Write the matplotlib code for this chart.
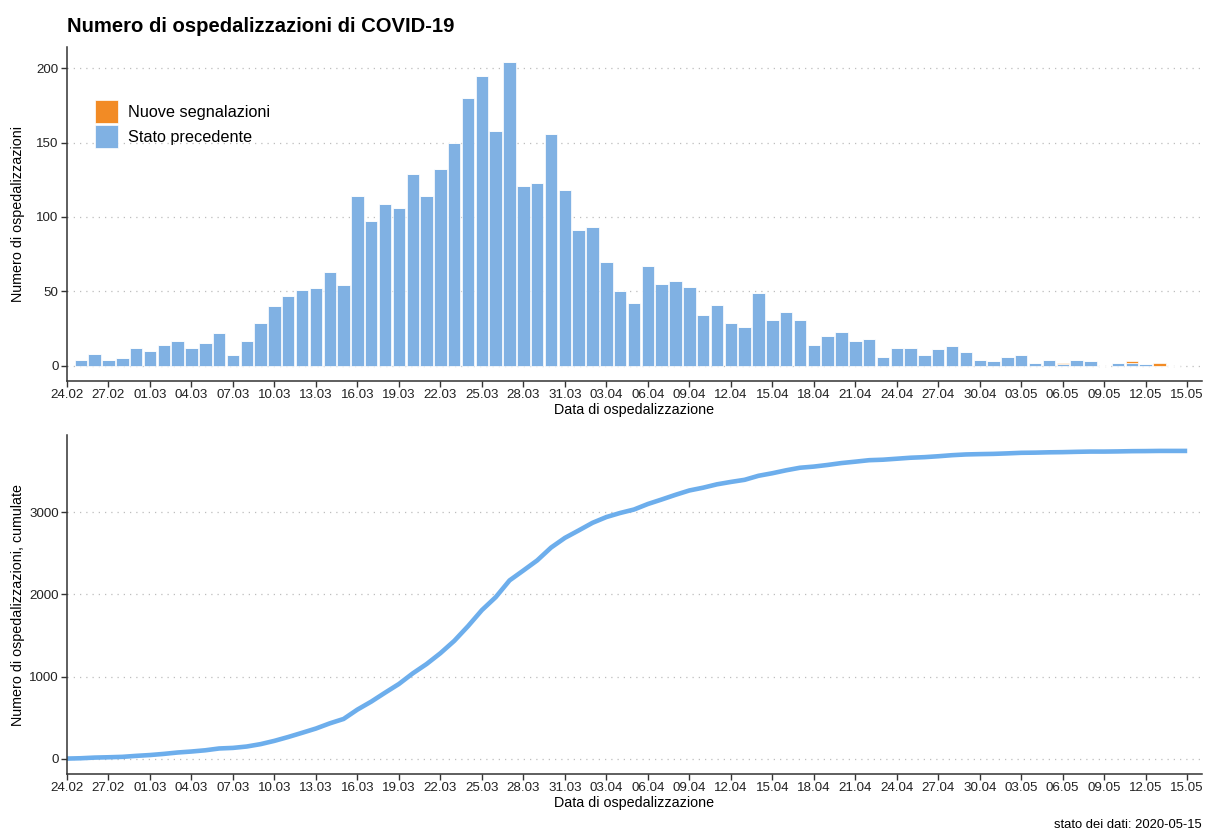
import pandas as pd
import numpy as np
import matplotlib
matplotlib.use("Agg")
import matplotlib.pyplot as plt
import matplotlib.dates as mdates

plt.rcParams["font.family"] = ["Liberation Sans", "DejaVu Sans"]

# Daily hospitalizations by date of hospitalization, 25.02 - 14.05
dates = pd.date_range("2020-02-25", "2020-05-14")
stato_precedente = [
    4, 8, 4, 5, 12, 10, 14, 17, 12, 15, 22, 7, 17, 29, 40, 47, 51, 52, 63, 54,
    114, 97, 109, 106, 129, 114, 132, 150, 180, 195, 158, 204, 121, 123, 156, 118,
    91, 93, 70, 50, 42, 67, 55, 57, 53, 34, 41, 29, 26, 49, 31, 36, 31,
    14, 20, 23, 17, 18, 6, 12, 12, 7, 11, 13, 9, 4, 3, 6, 7, 2, 4, 1, 4, 3, 0,
    2, 2, 1, 0, 0,
]
nuove_segnalazioni = [0] * 71 + [1, 0, 0, 0, 0, 1, 0, 2, 0]

# cumulative line runs 24.02 - 15.05
cum_dates = pd.date_range("2020-02-24", "2020-05-15")
daily_total = [0] + [a + b for a, b in zip(stato_precedente, nuove_segnalazioni)] + [0]
cumulate = np.cumsum(daily_total)

tick_dates = pd.date_range("2020-02-24", "2020-05-15", freq="3D")

BLUE = "#80B1E3"
ORANGE = "#F28B25"
LINE = "#6DAEEC"
GRID = "#BDBDBD"
AXCOL = "#333333"

fig = plt.figure(figsize=(12.14, 8.32), dpi=100)
ax1 = fig.add_axes([67 / 1214, 1 - 381 / 832, 1135 / 1214, 334 / 832])
ax2 = fig.add_axes([67 / 1214, 1 - 774 / 832, 1135 / 1214, 339 / 832])

x0 = pd.Timestamp("2020-02-24")
x1 = x0 + pd.Timedelta(days=82.07)


def style_axis(ax, ylabel):
    for s in ["top", "right"]:
        ax.spines[s].set_visible(False)
    for s in ["left", "bottom"]:
        ax.spines[s].set_color(AXCOL)
        ax.spines[s].set_linewidth(1.1)
    ax.yaxis.grid(True, linestyle=(0, (1, 4)), color=GRID, linewidth=0.9)
    ax.xaxis.grid(False)
    ax.set_axisbelow(True)
    ax.set_xticks(tick_dates)
    ax.xaxis.set_major_formatter(mdates.DateFormatter("%d.%m"))
    ax.tick_params(axis="both", labelsize=9.6, colors=AXCOL, length=4, width=1,
                   labelcolor="#222222", pad=2)
    ax.set_xlim(x0, x1)
    ax.set_xlabel("Data di ospedalizzazione", fontsize=10.3, labelpad=1)
    ax.set_ylabel(ylabel, fontsize=10.3)
    ax.yaxis.set_label_coords((25 - 67) / 1135, 0.5)


# --- top: daily bars ---
ax1.bar(dates, stato_precedente, width=0.9, color=BLUE, edgecolor="white",
        linewidth=0.5, label="Stato precedente")
ax1.bar(dates, nuove_segnalazioni, bottom=stato_precedente, width=0.9, color=ORANGE,
        edgecolor="white", linewidth=0.5, label="Nuove segnalazioni")
style_axis(ax1, "Numero di ospedalizzazioni")
ax1.set_ylim(-10.2, 214.2)
ax1.set_yticks([0, 50, 100, 150, 200])

handles, labels = ax1.get_legend_handles_labels()
leg = ax1.legend(handles[::-1], labels[::-1], loc="upper left",
                 bbox_to_anchor=(95 / 1214, 1 - 100 / 832), bbox_transform=fig.transFigure,
                 frameon=False, fontsize=11.7, borderpad=0, borderaxespad=0,
                 handlelength=1.42, handleheight=1.8, handletextpad=0.6,
                 labelspacing=0.12)

# --- bottom: cumulative line ---
ax2.plot(cum_dates, cumulate, color=LINE, linewidth=3.3, solid_capstyle="butt")
style_axis(ax2, "Numero di ospedalizzazioni, cumulate")
ax2.set_ylim(-188, 3943)
ax2.set_yticks([0, 1000, 2000, 3000])

fig.text(67 / 1214, 1 - 27 / 832, "Numero di ospedalizzazioni di COVID-19",
         fontsize=14.6, fontweight="bold", ha="left", va="center")
fig.text(1202 / 1214, 1 - 825 / 832, "stato dei dati: 2020-05-15",
         fontsize=9.4, ha="right", va="center")

fig.savefig("out.png", dpi=100)
